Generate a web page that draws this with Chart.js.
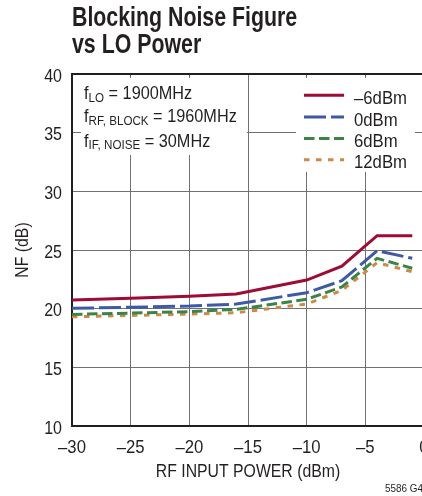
<!DOCTYPE html>
<html><head><meta charset="utf-8">
<script src="https://cdn.jsdelivr.net/npm/chart.js@4"></script>
<style>
html,body{margin:0;padding:0;overflow:hidden;background:#fff;width:422px;height:496px}
#wrap{position:absolute;left:0;top:0;width:440px;height:496px}
</style>
</head><body><div id="wrap"><canvas id="c" width="440" height="496"></canvas></div>
<script>
// ---- data ----
const rfInputPower = [-30, -25, -20, -16, -10, -7, -4, -1];
const nfLoMinus6dBm = [20.73, 20.88, 21.05, 21.25, 22.44, 23.63, 26.22, 26.22];
const nfLo0dBm      = [20.03, 20.12, 20.22, 20.39, 21.36, 22.38, 24.94, 24.29];
const nfLo6dBm      = [19.51, 19.62, 19.74, 19.94, 20.80, 21.85, 24.29, 23.44];
const nfLo12dBm     = [19.31, 19.42, 19.54, 19.65, 20.40, 21.55, 23.92, 23.15];
const seriesNames = ['\u20136dBm', '0dBm', '6dBm', '12dBm'];
const xTickValues = [-30, -25, -20, -15, -10, -5, 0];
const xTickLabels = ['\u201330', '\u201325', '\u201320', '\u201315', '\u201310', '\u20135', '0'];
const yTickValues = [10, 15, 20, 25, 30, 35, 40];
const yTickLabels = ['10', '15', '20', '25', '30', '35', '40'];
const titleLines = ['Blocking Noise Figure', 'vs LO Power'];
const xAxisTitle = 'RF INPUT POWER (dBm)';
const yAxisTitle = 'NF (dB)';
const conditions = [
  ['f', 'LO', ' = 1900MHz'],
  ['f', 'RF, BLOCK', ' = 1960MHz'],
  ['f', 'IF, NOISE', ' = 30MHz']
];
const figureCode = '5586 G48';

// ---- styles ----
const FONT = "'Liberation Sans', Arial, sans-serif";
const INK = '#231f20';
const styles = [
  {color: '#9e0b34', dash: []},
  {color: '#3d59a8', dash: [22, 5]},
  {color: '#3a8447', dash: [10.5, 4.5]},
  {color: '#cc8a45', dash: [5.5, 6.5]}
];
const seriesData = [nfLoMinus6dBm, nfLo0dBm, nfLo6dBm, nfLo12dBm];

Chart.defaults.font.family = FONT;
Chart.defaults.color = INK;

const datasets = seriesData.map((arr, k) => ({
  label: seriesNames[k],
  data: rfInputPower.map((x, i) => ({x: x, y: arr[i]})),
  borderColor: styles[k].color,
  borderDash: styles[k].dash,
  borderWidth: 3,
  borderCapStyle: 'butt',
  pointRadius: 0,
  tension: 0,
  fill: false
}));

// draw horizontally condensed text
function txt(ctx, s, x, y, size, opts) {
  opts = opts || {};
  ctx.save();
  ctx.translate(x, y);
  if (opts.rot) ctx.rotate(opts.rot);
  ctx.scale(opts.sx || 1, 1);
  ctx.font = (opts.bold ? 'bold ' : '') + size + 'px ' + FONT;
  ctx.textAlign = opts.align || 'left';
  ctx.textBaseline = 'alphabetic';
  ctx.fillStyle = opts.color || INK;
  ctx.fillText(s, 0, 0);
  const w = ctx.measureText(s).width * (opts.sx || 1);
  ctx.restore();
  return w;
}

const decor = {
  id: 'decor',
  beforeDatasetsDraw(chart) {
    const ctx = chart.ctx;
    const a = chart.chartArea;
    ctx.save();
    ctx.fillStyle = '#fff';
    ctx.fillRect(a.left + 9, a.top + 4, 166, 77);
    ctx.fillRect(a.left + 224, a.top + 4, 119, 94);
    ctx.strokeStyle = INK;
    ctx.lineWidth = 2;
    ctx.beginPath();
    ctx.moveTo(a.left, a.bottom + 1); ctx.lineTo(a.left, a.top);
    ctx.lineTo(chart.width, a.top);
    ctx.moveTo(a.left - 1, a.bottom); ctx.lineTo(chart.width, a.bottom);
    ctx.stroke();
    ctx.restore();
  },
  afterDraw(chart) {
    const ctx = chart.ctx;
    const a = chart.chartArea;
    const xs = chart.scales.x, ys = chart.scales.y;
    // title
    txt(ctx, titleLines[0], a.left, 26, 27, {bold: true, sx: 0.79});
    txt(ctx, titleLines[1], a.left, 53.3, 27, {bold: true, sx: 0.79});
    // tick labels
    yTickValues.forEach((v, i) => {
      txt(ctx, yTickLabels[i], a.left - 10, ys.getPixelForValue(v) + 7.7, 18.6, {sx: 0.86, align: 'right'});
    });
    xTickValues.forEach((v, i) => {
      txt(ctx, xTickLabels[i], xs.getPixelForValue(v), 452.5, 19, {sx: 0.88, align: 'center'});
    });
    // axis titles
    txt(ctx, xAxisTitle, (a.left + a.right) / 2, 476.7, 18.6, {sx: 0.85, align: 'center'});
    txt(ctx, yAxisTitle, 28.3, (a.top + a.bottom) / 2, 18.6, {sx: 0.85, align: 'center', rot: -Math.PI / 2});
    // conditions
    const bl = [99.3, 122.3, 146.7];
    conditions.forEach((c, i) => {
      let x = a.left + 12;
      x += txt(ctx, c[0], x, bl[i], 17.5, {sx: 0.93});
      x += txt(ctx, c[1], x, bl[i] + 2.5, 12.5, {sx: 0.93});
      txt(ctx, c[2], x, bl[i], 17.5, {sx: 0.93});
    });
    // legend
    const ly = [95.3, 117, 138.5, 159.7];
    ctx.save();
    chart.data.datasets.forEach((ds, k) => {
      ctx.strokeStyle = ds.borderColor;
      ctx.lineWidth = 3;
      ctx.setLineDash(ds.borderDash);
      ctx.beginPath();
      ctx.moveTo(304, ly[k]); ctx.lineTo(344, ly[k]);
      ctx.stroke();
      ctx.setLineDash([]);
      txt(ctx, ds.label, 354, ly[k] + 8.5, 18, {sx: 0.93});
    });
    ctx.restore();
    // figure code
    txt(ctx, figureCode, 385, 492, 11, {sx: 0.9});
  }
};

new Chart(document.getElementById('c'), {
  type: 'line',
  data: {datasets: datasets},
  options: {
    responsive: false,
    animation: false,
    layout: {padding: {top: 74, right: 16, left: 0, bottom: 0}},
    plugins: {legend: {display: false}, title: {display: false}, tooltip: {enabled: false}},
    scales: {
      x: {
        type: 'linear', min: -30, max: 0,
        afterBuildTicks: s => { s.ticks = xTickValues.map(v => ({value: v})); },
        afterFit: s => { s.height = 70; },
        grid: {color: '#707070', lineWidth: 1, drawTicks: false},
        border: {display: false},
        ticks: {display: false},
        title: {display: false}
      },
      y: {
        min: 10, max: 40,
        afterBuildTicks: s => { s.ticks = yTickValues.map(v => ({value: v})); },
        afterFit: s => { s.width = 72; },
        grid: {color: '#707070', lineWidth: 1, drawTicks: false},
        border: {display: false},
        ticks: {display: false},
        title: {display: false}
      }
    }
  },
  plugins: [decor]
});
</script>
</body></html>
